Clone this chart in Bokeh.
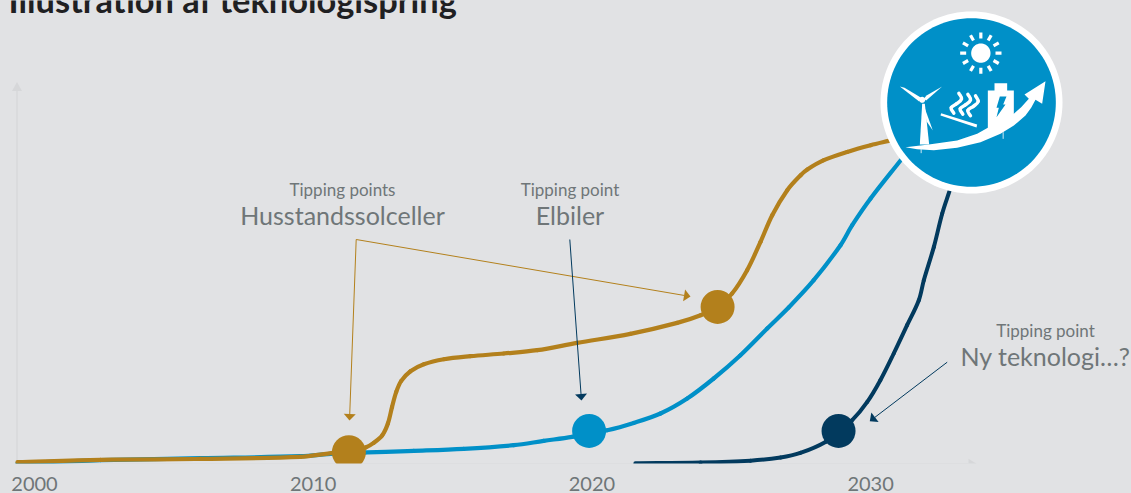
from bokeh.plotting import figure
from bokeh.models import Range1d, FixedTicker, LinearAxis
from bokeh.core.properties import value
from bokeh.embed import file_html
from bokeh.resources import INLINE
import math

# ---- data ----
title = "Illustration af teknologispring"
tick_years = [2000, 2010, 2020, 2030]

solar_x = [1999.39, 2002.37, 2005.96, 2009.54, 2010.73, 2011.28, 2011.88, 2012.17, 2012.48, 2012.68, 2012.83,
           2012.98, 2013.16, 2013.49, 2013.97, 2014.69, 2015.64, 2016.84, 2018.04, 2019.47, 2021.38, 2023.06,
           2023.90, 2024.51, 2025.03, 2025.57, 2026.05, 2026.47, 2027.01, 2027.49, 2027.73, 2028.32, 2029.16,
           2030.00, 2030.65]
solar_y = [1.3, 3.6, 4.6, 6.6, 10.6, 11.3, 16, 20.6, 28.3, 40, 56.6,
           71.6, 82.6, 92.3, 99.3, 104.3, 107.3, 110, 113.3, 120.6, 129.6, 140.6,
           148.3, 156.6, 170, 193.3, 221.6, 248.3, 273.3, 288.3, 294, 303.3, 311.6,
           318.3, 322.6]

ev_x = [1999.39, 2002.37, 2005.96, 2009.54, 2010.73, 2011.88, 2013.61, 2015.40, 2017.20, 2018.27, 2019.29, 2020.55,
        2021.50, 2022.46, 2023.42, 2024.37, 2025.33, 2026.29, 2027.06, 2027.96, 2028.92, 2029.34, 2030.00, 2031.08]
ev_y = [0.2, 3.3, 5.3, 7.3, 9.8, 11, 12.6, 14.6, 18.3, 22.6, 26.6, 33.3,
        40.6, 50, 65, 85, 108.3, 135, 156, 183.3, 218.3, 238.3, 265, 303.3]

new_x = [2021.56, 2023.90, 2025.69, 2026.77, 2027.48, 2028.38, 2028.85, 2029.34, 2029.88, 2030.35, 2030.83,
         2031.31, 2031.73, 2031.91, 2032.27, 2032.57, 2032.83]
new_y = [0.3, 1, 2.8, 6, 10.6, 21.6, 32.6, 43.3, 61.6, 83.3, 110,
         138.3, 163.3, 183.3, 216.6, 250, 272.3]

tip_solar_x = [2011.28, 2024.51]
tip_solar_y = [11.3, 156.6]
tip_ev_x = [2019.90]
tip_ev_y = [32.6]
tip_new_x = [2028.85]
tip_new_y = [32.6]

small_labels = ["Tipping points", "Tipping point", "Tipping point"]
big_labels = ["Husstandssolceller", "Elbiler", "Ny teknologi…?"]

BG = "#e1e2e4"
GOLD = "#b3801c"
BLUE = "#0090c8"
NAVY = "#023a5e"
GREY = "#6f7678"
AXIS = "#d6d7d9"
X0, PX = 34.0, 27.87


def X(px):
    return 2000 + (px - X0) / PX


def Y(py):
    return 463 - py


p = figure(width=1131, height=493, output_backend="svg", toolbar_location=None,
           x_range=Range1d(X(0), X(1131)), y_range=Range1d(0, 463),
           x_axis_location=None, y_axis_location=None,
           min_border_left=0, min_border_right=0, min_border_top=0, min_border_bottom=30,
           background_fill_color=BG, border_fill_color=BG, outline_line_color=None)
p.grid.visible = False

ax = LinearAxis(ticker=FixedTicker(ticks=tick_years), axis_line_color=None,
                major_tick_line_color=None, minor_tick_line_color=None,
                major_label_text_font="Lato", major_label_text_font_size="20px",
                major_label_text_color=GREY, major_label_standoff=7)
p.add_layout(ax, "below")


def arrow(x0, y0, x1, y1, color, width=1.0, head_len=6.5, head_w=12):
    d = math.hypot(x1 - x0, y1 - y0)
    ux, uy = (x1 - x0) / d, (y1 - y0) / d
    bx, by = x1 - ux * head_len, y1 - uy * head_len
    p.line([X(x0), X(bx)], [Y(y0), Y(by)], line_color=color, line_width=width)
    p.patch([X(x1), X(bx - uy * head_w / 2), X(bx + uy * head_w / 2)],
            [Y(y1), Y(by + ux * head_w / 2), Y(by - ux * head_w / 2)],
            fill_color=color, line_color=None)


def smooth_line(xs, ys, color, width):
    """Draw the read points as one smooth stroke (tangents through neighbours)."""
    n = len(xs)
    tx, ty = [], []
    for i in range(n):
        a, b = max(i - 1, 0), min(i + 1, n - 1)
        dx, dy = (xs[b] - xs[a]) * PX, ys[b] - ys[a]
        m = math.hypot(dx, dy) or 1
        tx.append(dx / m)
        ty.append(dy / m)
    x0, y0, x1, y1, cx0, cy0, cx1, cy1 = [], [], [], [], [], [], [], []
    for i in range(n - 1):
        d = math.hypot((xs[i + 1] - xs[i]) * PX, ys[i + 1] - ys[i]) / 3
        x0.append(xs[i]); y0.append(ys[i]); x1.append(xs[i + 1]); y1.append(ys[i + 1])
        cx0.append(xs[i] + tx[i] * d / PX); cy0.append(ys[i] + ty[i] * d)
        cx1.append(xs[i + 1] - tx[i + 1] * d / PX); cy1.append(ys[i + 1] - ty[i + 1] * d)
    p.bezier(x0=x0, y0=y0, x1=x1, y1=y1, cx0=cx0, cy0=cy0, cx1=cx1, cy1=cy1,
             line_color=color, line_width=width, line_cap="round")


# axes drawn as arrows
arrow(17, 463.3, 976, 463.3, AXIS, 1.2, 8, 10)
arrow(16.5, 463.3, 16.5, 81.5, AXIS, 1.2, 9, 10)

# curves
smooth_line(new_x, new_y, NAVY, 4)
smooth_line(ev_x, ev_y, BLUE, 4.2)
smooth_line(solar_x, solar_y, GOLD, 4.2)

# tipping points
p.scatter(tip_ev_x, tip_ev_y, size=34, fill_color=BLUE, line_color=None)
p.scatter(tip_solar_x, tip_solar_y, size=34, fill_color=GOLD, line_color=None)
p.scatter(tip_new_x, tip_new_y, size=34, fill_color=NAVY, line_color=None)

# callouts
arrow(355.7, 239, 349, 420, GOLD)
arrow(355.7, 239, 690, 296, GOLD)
arrow(569.3, 239, 581, 400, NAVY)
arrow(946.7, 361.7, 869.3, 420.7, NAVY)

# texts
p.text([X(v) for v in [342, 569.5, 1045]], [Y(189), Y(189), Y(330)], text=small_labels, text_align="center",
       text_baseline="alphabetic", text_font=value("Lato"), text_font_size="17px", text_color=GREY)
p.text([X(v) for v in [342, 569.5, 1045]], [Y(214), Y(214), Y(355)], text=big_labels, text_align="center",
       text_baseline="alphabetic", text_font=value("Lato"), text_font_size="25px", text_color=GREY)
p.text([X(8)], [Y(-1)], text=[title], text_align="left", text_baseline="alphabetic",
       text_font=value("Lato"), text_font_style="bold", text_font_size="34.4px", text_color="#1f2022")


# icon, drawn on a 3x local grid
def ix(z):
    return X(870 + z / 3)


def iy(z):
    return Y(z / 3)


def shape(points, color):
    p.patch([ix(a) for a, b in points], [iy(b) for a, b in points], fill_color=color, line_color=None)


def disc(cx, cy, r, color):
    n = 120
    shape([(cx + r * math.cos(2 * math.pi * i / n), cy + r * math.sin(2 * math.pi * i / n)) for i in range(n)], color)


disc(303, 306, 273, "white")
disc(303, 306, 253, BLUE)
disc(331, 158, 29, "white")
for k in range(12):
    a = math.pi * k / 6
    p.line([ix(331 + 44 * math.cos(a)), ix(331 + 62 * math.cos(a))],
           [iy(158 + 44 * math.sin(a)), iy(158 + 62 * math.sin(a))],
           line_color="white", line_width=3.2)
# turbine
shape([(155, 310), (148, 432), (176, 432), (163, 310)], "white")
shape([(88, 258), (102, 262), (152, 292), (146, 303)], "white")
shape([(215, 258), (168, 285), (160, 295), (167, 300)], "white")
shape([(158, 310), (187, 390), (168, 362)], "white")
disc(155, 298, 9, "white")
# hot plate and heat
shape([(212, 338), (320, 372), (318, 381), (210, 345)], "white")
for dx, dy in [(0, 0), (27, 3), (50, 8)]:
    pts = [(265, 278), (273, 295), (258, 310), (242, 322), (250, 338)]
    smooth_line([ix(a + dx) for a, b in pts], [iy(b + dy) for a, b in pts], "white", 3.4)
# battery
shape([(352, 270), (372, 270), (372, 248), (410, 248), (410, 270), (430, 270), (430, 370), (352, 400)], "white")
shape([(388, 288), (408, 288), (398, 312), (405, 312), (378, 350), (385, 322), (378, 322)], BLUE)
# rising arrow
shape([(105, 440), (175, 432), (260, 420), (320, 400), (352, 382), (430, 340), (452, 320), (475, 295),
       (462, 282), (525, 242), (515, 310), (495, 298), (482, 322), (465, 345), (430, 375), (390, 400), (330, 425),
       (260, 442), (190, 449), (140, 446)], "white")
p.line([ix(152), ix(152)], [iy(445), iy(458)], line_color="#cfe9f5", line_width=1)
p.line([ix(398), ix(398)], [iy(395), iy(415)], line_color="#cfe9f5", line_width=1)

html = file_html(p, INLINE)
html = html.replace("<head>", "<head><style>html,body{margin:0;padding:0;background:%s;overflow:hidden}</style>" % BG, 1)
open("out.html", "w").write(html)
